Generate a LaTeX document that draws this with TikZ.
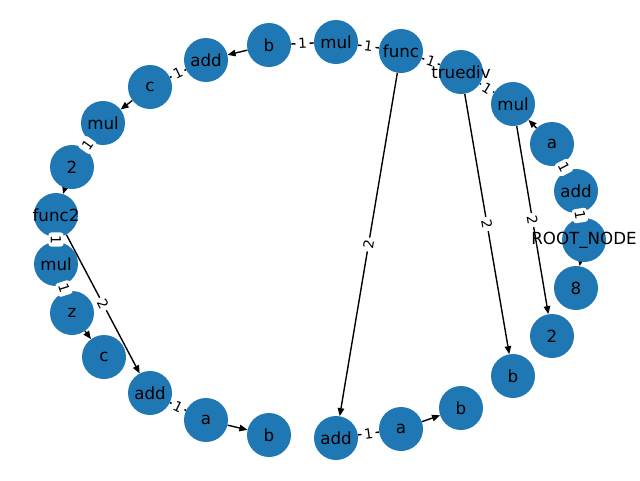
\documentclass[tikz,border=0pt]{standalone}
\usepackage{fontspec}
\setmainfont{DejaVu Sans}
\usetikzlibrary{arrows.meta,backgrounds}
\definecolor{nblue}{HTML}{1F77B4}
\begin{document}
\begin{tikzpicture}[x=1pt,y=-1pt,
  vtx/.style={circle,fill=nblue,minimum size=44pt,inner sep=0pt},
  ntxt/.style={font=\fontsize{16.67}{20}\selectfont,text=black,inner sep=0pt},
  arr/.style={line width=1.39pt,-{Triangle[length=8pt,width=6.5pt]}},
  lne/.style={line width=1.39pt},
  elbl/.style={fill=white,rounded corners=3pt,inner sep=2.6pt,
    font=\fontsize{13.9}{16}\selectfont,sloped}]
\useasboundingbox (0,0) rectangle (640,480);
% nodes (circles)
\node[vtx] (bT) at (269,45) {};
\node[vtx] (addT) at (206,60) {};
\node[vtx] (mulT) at (336,42) {};
\node[vtx] (func) at (401,51) {};
\node[vtx] (truediv) at (461,72) {};
\node[vtx] (mulR) at (513,104) {};
\node[vtx] (aR) at (552,144) {};
\node[vtx] (addR) at (576,191) {};
\node[vtx] (root) at (584,240) {};
\node[vtx] (eight) at (576,288) {};
\node[vtx] (twoR) at (552,336) {};
\node[vtx] (bRa) at (513,376) {};
\node[vtx] (bRb) at (461,408) {};
\node[vtx] (aB) at (401,429) {};
\node[vtx] (addB) at (336,438) {};
\node[vtx] (bB) at (269,435) {};
\node[vtx] (aL) at (206,420) {};
\node[vtx] (addL) at (150,393) {};
\node[vtx] (cL) at (104,357) {};
\node[vtx] (zL) at (72,313) {};
\node[vtx] (mulLb) at (56,264) {};
\node[vtx] (func2) at (56,215) {};
\node[vtx] (twoL) at (72,167) {};
\node[vtx] (mulL) at (103,123) {};
\node[vtx] (cT) at (150,87) {};
% edges
\begin{scope}[on background layer]
\draw[arr] (bT) -- (addT);
\draw[arr] (cT) -- (mulL);
\draw[arr] (twoL) -- (func2);
\draw[arr] (zL) -- (cL);
\draw[arr] (func2) -- (addL);
\draw[arr] (aL) -- (bB);
\draw[arr] (func) -- (addB);
\draw[arr] (aB) -- (bRb);
\draw[arr] (truediv) -- (bRa);
\draw[arr] (mulR) -- (twoR);
\draw[arr] (aR) -- (mulR);
\draw[arr] (root) -- (eight);
\draw[lne] (bT) -- (mulT);
\draw[lne] (mulT) -- (func);
\draw[lne] (func) -- (truediv);
\draw[lne] (truediv) -- (mulR);
\draw[lne] (aR) -- (addR);
\draw[lne] (addR) -- (root);
\draw[lne] (addT) -- (cT);
\draw[lne] (mulL) -- (twoL);
\draw[lne] (func2) -- (mulLb);
\draw[lne] (mulLb) -- (zL);
\draw[lne] (addL) -- (aL);
\draw[lne] (addB) -- (aB);
\end{scope}
% edge labels
\path (func2) -- node[elbl]{2} (addL);
\path (func) -- node[elbl]{2} (addB);
\path (truediv) -- node[elbl]{2} (bRa);
\path (mulR) -- node[elbl]{2} (twoR);
\path (bT) -- node[elbl]{1} (mulT);
\path (mulT) -- node[elbl]{1} (func);
\path (func) -- node[elbl]{1} (truediv);
\path (truediv) -- node[elbl]{1} (mulR);
\path (aR) -- node[elbl]{1} (addR);
\path (addR) -- node[elbl]{1} (root);
\path (addT) -- node[elbl]{1} (cT);
\path (mulL) -- node[elbl]{1} (twoL);
\path (func2) -- node[elbl]{1} (mulLb);
\path (mulLb) -- node[elbl]{1} (zL);
\path (addL) -- node[elbl]{1} (aL);
\path (addB) -- node[elbl]{1} (aB);
% node texts on top
\node[ntxt] (bT-t) at (bT) {b};
\node[ntxt] (addT-t) at (addT) {add};
\node[ntxt] (mulT-t) at (mulT) {mul};
\node[ntxt] (func-t) at (func) {func};
\node[ntxt] (truediv-t) at (truediv) {truediv};
\node[ntxt] (mulR-t) at (mulR) {mul};
\node[ntxt] (aR-t) at (aR) {a};
\node[ntxt] (addR-t) at (addR) {add};
\node[ntxt] (root-t) at (root) {ROOT\_NODE};
\node[ntxt] (eight-t) at (eight) {8};
\node[ntxt] (twoR-t) at (twoR) {2};
\node[ntxt] (bRa-t) at (bRa) {b};
\node[ntxt] (bRb-t) at (bRb) {b};
\node[ntxt] (aB-t) at (aB) {a};
\node[ntxt] (addB-t) at (addB) {add};
\node[ntxt] (bB-t) at (bB) {b};
\node[ntxt] (aL-t) at (aL) {a};
\node[ntxt] (addL-t) at (addL) {add};
\node[ntxt] (cL-t) at (cL) {c};
\node[ntxt] (zL-t) at (zL) {z};
\node[ntxt] (mulLb-t) at (mulLb) {mul};
\node[ntxt] (func2-t) at (func2) {func2};
\node[ntxt] (twoL-t) at (twoL) {2};
\node[ntxt] (mulL-t) at (mulL) {mul};
\node[ntxt] (cT-t) at (cT) {c};
\end{tikzpicture}
\end{document}
